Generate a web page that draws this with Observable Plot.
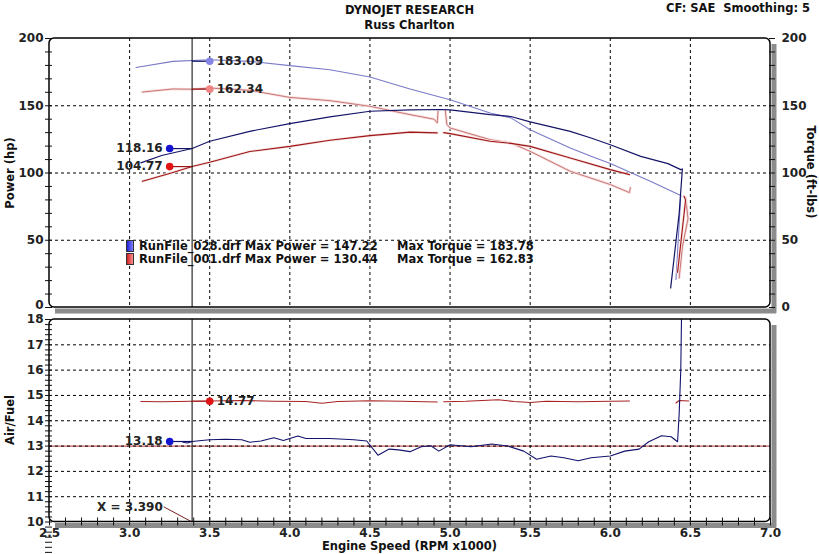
<!DOCTYPE html>
<html><head><meta charset="utf-8">
<script src="https://cdn.jsdelivr.net/npm/d3@7"></script>
<script src="https://cdn.jsdelivr.net/npm/@observablehq/plot@0.6"></script>
<style>
body{margin:0;background:#fff;}
#wrap{position:relative;width:819px;height:554px;font-family:"DejaVu Sans",Verdana,sans-serif;font-weight:bold;color:#111;overflow:hidden;background:#fff}
.t{position:absolute;white-space:pre;font-size:11.5px;line-height:13px}
.p{position:absolute;left:0}
.sq{position:absolute;width:6px;height:10px;border:1px solid #333}
</style></head><body>
<div id="wrap">
  <div class="t" style="left:0;width:819px;text-align:center;top:4px">DYNOJET RESEARCH</div>
  <div class="t" style="left:0;width:819px;text-align:center;top:19px">Russ Charlton</div>
  <div class="t" style="right:9px;top:2px">CF: SAE  Smoothing: 5</div>
  <div id="p1" class="p" style="top:0"></div>
  <div id="p2" class="p" style="top:313px"></div>
  <div class="t" style="left:10px;top:173px;transform:translate(-50%,-50%) rotate(-90deg)">Power (hp)</div>
  <div class="t" style="left:810px;top:172px;transform:translate(-50%,-50%) rotate(90deg)">Torque (ft-lbs)</div>
  <div class="t" style="left:10px;top:420px;transform:translate(-50%,-50%) rotate(-90deg)">Air/Fuel</div>
  <div class="t" style="left:0;width:819px;text-align:center;top:540px">Engine Speed (RPM x1000)</div>
  <div class="sq" style="left:126px;top:240px;background:linear-gradient(90deg,#2020d0,#8080ff)"></div>
  <div class="sq" style="left:126px;top:253px;background:linear-gradient(90deg,#d02020,#ff9090)"></div>
  <div class="t" id="lg1" style="left:139px;top:240px"></div>
  <div class="t" id="lg2" style="left:139px;top:253px"></div>
  <div class="t" id="lg3" style="left:397px;top:240px"></div>
  <div class="t" id="lg4" style="left:397px;top:253px"></div>
</div>
<script>
// ---- data ----
const runNames = ["RunFile_028.drf", "RunFile_001.drf"];
const maxPower = [147.22, 130.44];
const maxTorque = [183.78, 162.83];

const xDomain = [2.5, 7.0];
const powerDomain = [0, 200];
const afrDomain = [10, 18];
const xTicks = [2.5, 3.0, 3.5, 4.0, 4.5, 5.0, 5.5, 6.0, 6.5, 7.0];
const powerTicks = [0, 50, 100, 150, 200];
const afrTicks = [10, 11, 12, 13, 14, 15, 16, 17, 18];

// Run 028 (blue)
const bluePowerRpm = [3.07, 3.2, 3.39, 3.5, 3.75, 4.0, 4.25, 4.5, 4.75, 4.94, 5.0, 5.25, 5.38, 5.5, 5.75, 5.88, 6.0, 6.19, 6.36, 6.44, 6.45, 6.43, 6.377];
const bluePowerHp  = [107.5, 113, 118.2, 123.6, 131, 136.7, 141.7, 145.9, 147, 147.2, 147, 143.4, 142, 138, 131, 126, 121, 112.4, 107, 102.5, 103, 70, 14.6];
const blueTorqueRpm = [3.04, 3.27, 3.5, 3.75, 4.0, 4.25, 4.5, 4.75, 5.0, 5.25, 5.38, 5.5, 5.75, 5.88, 6.0, 6.25, 6.44, 6.41];
const blueTorque    = [178.5, 183, 184.2, 183, 179.8, 176.8, 171.4, 162.5, 154.5, 144.6, 141, 132.2, 118.6, 112.4, 107, 93.8, 83.2, 20.8];
const blueAfrRpm = [3.33, 3.36, 3.39, 3.45, 3.5, 3.6, 3.7, 3.75, 3.82, 3.9, 3.96, 4.05, 4.1, 4.25, 4.4, 4.48, 4.55, 4.62, 4.68, 4.75, 4.82, 4.88, 4.93, 5.0, 5.13, 5.26, 5.36, 5.46, 5.54, 5.63, 5.71, 5.8, 5.88, 6.0, 6.09, 6.18, 6.24, 6.32, 6.38, 6.42, 6.43, 6.44, 6.445];
const blueAfr    = [13.16, 13.12, 13.18, 13.22, 13.25, 13.27, 13.25, 13.15, 13.2, 13.33, 13.22, 13.4, 13.3, 13.3, 13.25, 13.2, 12.64, 12.88, 12.85, 12.78, 12.97, 13.01, 12.8, 13.05, 12.97, 13.08, 13.0, 12.8, 12.48, 12.61, 12.54, 12.42, 12.54, 12.61, 12.8, 12.88, 13.17, 13.41, 13.37, 13.17, 14.28, 16, 18.3];

// Run 001 (red) -- NaN marks gaps in the recording
const redPowerRpm = [3.08, 3.26, 3.39, 3.5, 3.75, 4.0, 4.25, 4.5, 4.75, 4.92, 4.94, 4.96, 5.0, 5.25, 5.38, 5.5, 5.75, 6.0, 6.12, 6.3, 6.46, 6.47, 6.42];
const redPowerHp  = [93.8, 100, 104.8, 108, 116, 119.8, 124.3, 127.8, 130.4, 129.8, NaN, 130, 129.3, 123.6, 122, 119.8, 111.2, 102.5, 98.8, NaN, 82.7, 80, 26];
const redTorqueRpm = [3.08, 3.27, 3.39, 3.5, 3.75, 4.0, 4.25, 4.5, 4.75, 4.9, 4.92, 4.925, 4.95, 4.97, 4.98, 5.0, 5.25, 5.38, 5.5, 5.75, 6.0, 6.12, 6.125, 6.3, 6.47, 6.485, 6.45, 6.43];
const redTorque    = [160.2, 162.5, 162.3, 163.2, 161.5, 156.2, 153.8, 149.6, 143.4, 140, 137.2, 145.8, NaN, 147, 136, 133.5, 124.8, 122.3, 116.1, 101.3, 91.4, 85.4, 89, NaN, 82, 66, 45, 22];
const redAfrRpm = [3.07, 3.2, 3.39, 3.5, 3.7, 3.9, 4.1, 4.2, 4.3, 4.5, 4.7, 4.92, 4.94, 4.96, 5.1, 5.2, 5.3, 5.4, 5.5, 5.6, 5.8, 6.0, 6.12, 6.3, 6.41, 6.43, 6.49];
const redAfr    = [14.76, 14.75, 14.77, 14.78, 14.8, 14.77, 14.76, 14.69, 14.76, 14.79, 14.77, 14.74, NaN, 14.75, 14.77, 14.8, 14.83, 14.76, 14.72, 14.77, 14.75, 14.77, 14.78, NaN, 14.7, 14.8, 14.78];

const targetAfr = 13.0;
const cursorRpm = 3.39;
const leftMarkRpm = 3.25, rightMarkRpm = 3.5;
const powerAtCursor = [118.16, 104.77];
const torqueAtCursor = [183.09, 162.34];
const afrAtCursorBlue = 13.18, afrAtCursorRed = 14.77;

// ---- colours ----
const C = {
  bluePow: "#141468", blueTq: "#7a7ac8", redPow: "#9c1616", redTq: "#c87878",
  blueAfr: "#12126e", redAfr: "#a82222", target: "#c45a5a",
  mBlue: "#1414d0", mRed: "#e01414", mBlueTq: "#8484e6", mRedTq: "#f08484"
};
const shadowGrey = "#8c8c8c";

const tbl = (xs, ys) => xs.map((x, i) => ({x, y: ys[i]}));

document.getElementById("lg1").textContent = `${runNames[0]} Max Power = ${maxPower[0].toFixed(2)}`;
document.getElementById("lg2").textContent = `${runNames[1]} Max Power = ${maxPower[1].toFixed(2)}`;
document.getElementById("lg3").textContent = `Max Torque = ${maxTorque[0].toFixed(2)}`;
document.getElementById("lg4").textContent = `Max Torque = ${maxTorque[1].toFixed(2)}`;

const style = {fontFamily: "'DejaVu Sans', Verdana, sans-serif", fontSize: "12px", fontWeight: "bold", background: "transparent", overflow: "visible", color: "#111"};
const dash = "3,3";
const empty = () => "";

// panel background: white plotting area + grey drop shadow along right and bottom edges
function panelBox(yDom) {
  const box = [{x1: xDomain[0], x2: xDomain[1], y1: yDom[0], y2: yDom[1]}];
  return [
    Plot.rect(box, {x1: "x1", x2: "x2", y1: "y1", y2: "y2", fill: "white", rx: 5}),
    Plot.ruleX([xDomain[1]], {stroke: shadowGrey, strokeWidth: 5, dx: 3.5, insetTop: 6, insetBottom: -6}),
    Plot.ruleY([yDom[0]], {stroke: shadowGrey, strokeWidth: 5, dy: 3.5, insetLeft: 6, insetRight: -6})
  ];
}
function panelBorder(yDom) {
  const box = [{x1: xDomain[0], x2: xDomain[1], y1: yDom[0], y2: yDom[1]}];
  return Plot.rect(box, {x1: "x1", x2: "x2", y1: "y1", y2: "y2", fill: "none", stroke: "black", strokeWidth: 1.5, rx: 5});
}

function markers(leftVals, leftColors, lineColorsL, rightVals, rightColors, lineColorsR) {
  const L = leftVals.map((v, i) => ({v, c: leftColors[i], lc: lineColorsL[i]}));
  const R = rightVals.map((v, i) => ({v, c: rightColors[i], lc: lineColorsR[i]}));
  return [
    Plot.link(L, {x1: () => leftMarkRpm, x2: () => cursorRpm, y1: d => d.v, y2: d => d.v, stroke: d => d.lc, strokeWidth: 1.2}),
    Plot.link(R, {x1: () => cursorRpm, x2: () => rightMarkRpm, y1: d => d.v, y2: d => d.v, stroke: d => d.lc, strokeWidth: 1.2}),
    Plot.dot(L, {x: () => leftMarkRpm, y: d => d.v, r: 3.8, fill: d => d.c, stroke: "none"}),
    Plot.dot(R, {x: () => rightMarkRpm, y: d => d.v, r: 3.8, fill: d => d.c, stroke: "none"}),
    Plot.text(L, {x: () => leftMarkRpm, y: d => d.v, text: d => d.v.toFixed(2), textAnchor: "end", dx: -7, fill: "#222", fontSize: 12}),
    Plot.text(R, {x: () => rightMarkRpm, y: d => d.v, text: d => d.v.toFixed(2), textAnchor: "start", dx: 7, fill: "#222", fontSize: 12})
  ];
}

const p1 = Plot.plot({
  width: 819, height: 313,
  marginLeft: 49, marginRight: 49, marginTop: 38, marginBottom: 6,
  x: {domain: xDomain, axis: null},
  y: {domain: powerDomain, axis: null},
  style,
  marks: [
    ...panelBox(powerDomain),
    Plot.ruleX(xTicks.slice(1, -1), {stroke: "black", strokeDasharray: dash}),
    Plot.ruleY(powerTicks.slice(1, -1), {stroke: "black", strokeDasharray: dash}),
    Plot.line(tbl(blueTorqueRpm, blueTorque), {x: "x", y: "y", stroke: C.blueTq, strokeWidth: 1.1}),
    Plot.line(tbl(redTorqueRpm, redTorque), {x: "x", y: "y", stroke: "#f8dcdc", strokeWidth: 2.6}),
    Plot.line(tbl(redTorqueRpm, redTorque), {x: "x", y: "y", stroke: C.redTq, strokeWidth: 1}),
    Plot.line(tbl(redPowerRpm, redPowerHp), {x: "x", y: "y", stroke: "#f8e0e0", strokeWidth: 2.6}),
    Plot.line(tbl(redPowerRpm, redPowerHp), {x: "x", y: "y", stroke: C.redPow, strokeWidth: 1.1}),
    Plot.line(tbl(bluePowerRpm, bluePowerHp), {x: "x", y: "y", stroke: C.bluePow, strokeWidth: 1.2}),
    Plot.ruleX([cursorRpm], {stroke: "black", strokeWidth: 1}),
    ...markers(powerAtCursor, [C.mBlue, C.mRed], [C.bluePow, C.redPow], torqueAtCursor, [C.mBlueTq, C.mRedTq], [C.bluePow, C.redPow]),
    panelBorder(powerDomain),
    Plot.axisY({anchor: "left", ticks: d3.range(0, 201, 10), tickSize: 7, dx: 3, tickFormat: empty, label: null}),
    Plot.axisY({anchor: "left", ticks: powerTicks.slice(1), tickSize: 0, tickPadding: 6, label: null, fill: "#222"}),
    Plot.axisY({anchor: "left", ticks: powerTicks.slice(0, 1), tickSize: 0, tickPadding: 6, dy: -2, label: null, fill: "#222"}),
    Plot.axisY({anchor: "right", ticks: d3.range(0, 201, 10), tickSize: 6, dx: -2, tickFormat: empty, label: null}),
    Plot.axisY({anchor: "right", ticks: powerTicks, tickSize: 0, tickPadding: 11, label: null, fill: "#222"})
  ]
});
document.getElementById("p1").appendChild(p1);

const p2 = Plot.plot({
  width: 819, height: 241,
  marginLeft: 49, marginRight: 49, marginTop: 6, marginBottom: 32.5,
  x: {domain: xDomain, axis: null},
  y: {domain: afrDomain, axis: null},
  style,
  marks: [
    ...panelBox(afrDomain),
    Plot.ruleY([targetAfr], {stroke: C.target, strokeWidth: 1.2}),
    Plot.ruleX(xTicks.slice(1, -1), {stroke: "black", strokeDasharray: dash}),
    Plot.ruleY(afrTicks.slice(1, -1), {stroke: "black", strokeDasharray: dash}),
    Plot.line(tbl(redAfrRpm, redAfr), {x: "x", y: "y", stroke: C.redAfr, strokeWidth: 1.1}),
    Plot.line(tbl(blueAfrRpm, blueAfr), {x: "x", y: "y", stroke: C.blueAfr, strokeWidth: 1.1, clip: true}),
    Plot.ruleX([cursorRpm], {stroke: "black", strokeWidth: 1}),
    ...markers([afrAtCursorBlue], [C.mBlue], [C.blueAfr], [afrAtCursorRed], [C.mRed], [C.redAfr]),
    Plot.link([cursorRpm], {x1: d => d - 0.177, y1: 10.6, x2: d => d, y2: 10, stroke: "#7a2020", strokeWidth: 1}),
    Plot.text([cursorRpm], {x: d => d - 0.177, y: 10.6, text: d => `X = ${d.toFixed(3)}`, textAnchor: "end", dx: -1, fill: "#222", fontSize: 12}),
    panelBorder(afrDomain),
    Plot.axisY({anchor: "left", ticks: d3.range(50, 181, 2).map(d => d / 10), tickSize: 7, dx: 3, tickFormat: empty, label: null}),
    Plot.axisY({anchor: "left", ticks: afrTicks, tickSize: 0, tickPadding: 6, label: null, fill: "#222"}),
    Plot.axisX({anchor: "bottom", ticks: d3.range(25, 71).map(d => d / 10), tickSize: 8, dy: -4, tickFormat: empty, label: null}),
    Plot.axisX({anchor: "bottom", ticks: xTicks, tickSize: 0, tickPadding: 6, tickFormat: d3.format(".1f"), label: null, fill: "#222"})
  ]
});
document.getElementById("p2").appendChild(p2);
</script>
</body></html>
